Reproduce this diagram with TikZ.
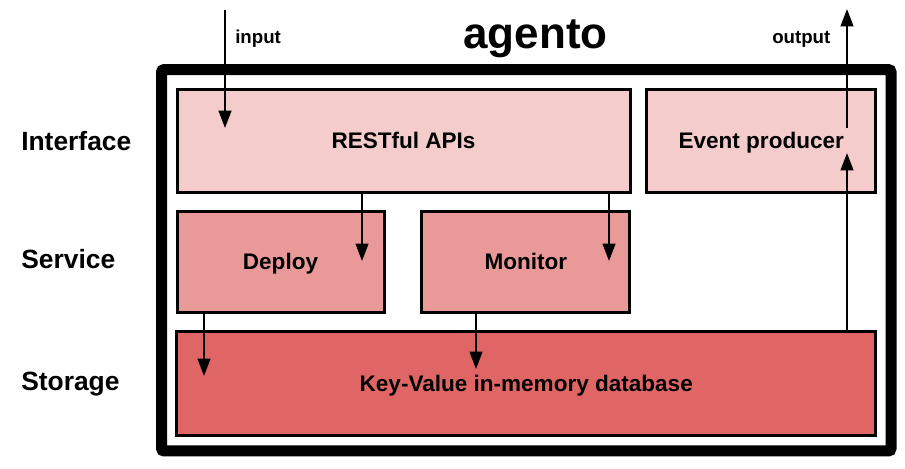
\documentclass[tikz,border=0pt]{standalone}
\usepackage{fontspec}
\setmainfont{Liberation Sans}
\usetikzlibrary{arrows.meta}

\definecolor{apired}{HTML}{F4CCCC}
\definecolor{svcred}{HTML}{EA9999}
\definecolor{dbred}{HTML}{E06666}

\begin{document}
\begin{tikzpicture}[x=0.75pt, y=-0.75pt,
        layerbox/.style={draw, line width=2.25pt, inner sep=0, text height=12.1pt, text depth=0pt, font=\fontsize{16.9}{20}\selectfont\bfseries},
        flow/.style={line width=1.6pt, -{Triangle[length=13pt, width=9.5pt]}},
        tier/.style={anchor=base west, inner sep=0, font=\fontsize{19.8}{24}\selectfont\bfseries},
        io/.style={anchor=base west, inner sep=0, font=\fontsize{14}{17}\selectfont\bfseries}]
\useasboundingbox (0,0) rectangle (905,468);
                \node[draw, line width=8.25pt, rounded corners=2pt, minimum width=547.1pt, minimum height=286.1pt](frame) at (526.25,260.25) {};
                \node[anchor=base, inner sep=0, font=\fontsize{33}{40}\selectfont\bfseries](title) at (535.5,48.3) {agento};
% layers
\node[tier](iface) at (21,150.7) {Interface};
\node[tier](svc) at (21,268) {Service};
\node[tier](store) at (21,390.7) {Storage};
% boxes
\node[layerbox, fill=apired, minimum width=339.75pt, minimum height=77.25pt](rest) at (403.5,140.5) {RESTful APIs};
\node[layerbox, fill=apired, minimum width=171.4pt, minimum height=77.25pt](event) at (761.25,140.5) {Event producer};
\node[layerbox, fill=svcred, minimum width=155.25pt, minimum height=76.1pt](deploy) at (280.5,261.75) {Deploy};
\node[layerbox, fill=svcred, minimum width=156.2pt, minimum height=76.1pt](monitor) at (525.85,261.75) {Monitor};
\node[layerbox, fill=dbred, minimum width=523.9pt, minimum height=77.5pt](kv) at (526.25,383.35) {Key-Value in-memory database};
% arrows
\coordinate (inTop) at (225,10);
\coordinate (inTip) at (225,128);
\coordinate (dTip) at (362,261);
\coordinate (mTip) at (609,261);
\coordinate (dbTipA) at (204,376);
\coordinate (dbTipB) at (476,369);
\coordinate (evTip) at (847,153);
\coordinate (outFoot) at (847,128);
\coordinate (outTip) at (847,9);
\draw[flow] (inTop) -- (inTip);
\node[io](inlbl) at (235,43) {input};
\draw[flow] (rest.south -| dTip) -- (dTip);
\draw[flow] (rest.south -| mTip) -- (mTip);
\draw[flow] (deploy.south -| dbTipA) -- (dbTipA);
\draw[flow] (monitor.south -| dbTipB) -- (dbTipB);
\draw[flow] (kv.north -| evTip) -- (evTip);
\draw[flow] (outFoot) -- (outTip);
\node[io](outlbl) at (772,43) {output};

        \end{tikzpicture}
\end{document}
